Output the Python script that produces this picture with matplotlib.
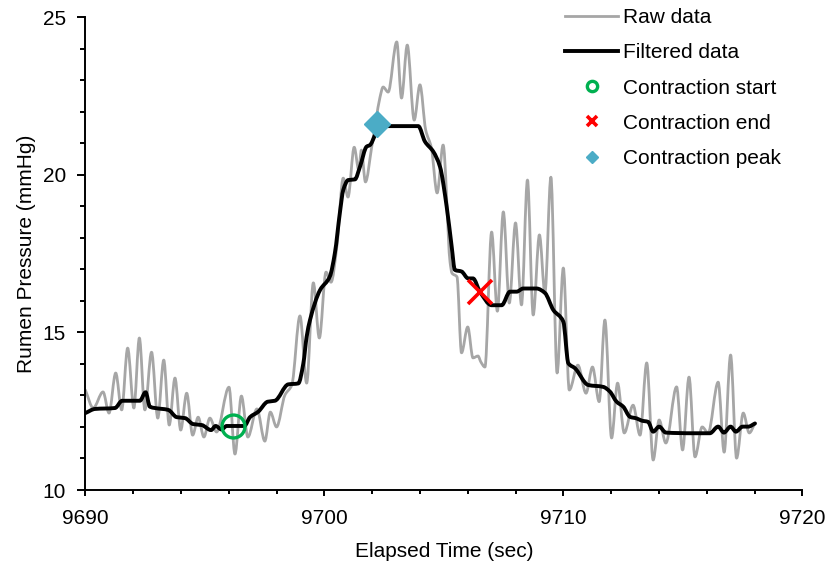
import matplotlib
matplotlib.use("Agg")
import matplotlib.pyplot as plt
from matplotlib.ticker import MultipleLocator
from matplotlib.path import Path
from matplotlib.patches import PathPatch
from matplotlib.lines import Line2D

plt.rcParams['font.family'] = ['Liberation Sans', 'DejaVu Sans']

# Raw data (time offset from 9690 s, pressure mmHg)
raw_t = [0.00, 0.33, 0.74, 0.99, 1.27, 1.52, 1.77, 2.03, 2.26, 2.49, 2.77, 3.03,
         3.28, 3.51, 3.75, 3.99, 4.24, 4.49, 4.72, 4.96, 5.21, 5.49, 6.01, 6.26,
         6.53, 6.80, 7.18, 7.51, 7.74, 8.00, 8.35, 8.64, 8.98, 9.26, 9.54, 9.79,
         10.07, 10.28, 10.53, 10.79, 10.99, 11.25, 11.44, 11.55, 11.72, 11.98,
         12.16, 12.33, 12.46, 12.67, 13.03, 13.23, 13.47, 13.76, 14.00, 14.24,
         14.48, 14.72, 14.97, 15.26, 15.34, 15.55, 15.74, 16.00, 16.22, 16.43,
         16.55, 16.72, 17.00, 17.24, 17.49, 17.74, 18.00, 18.25, 18.50, 18.74,
         19.00, 19.23, 19.48, 19.74, 20.00, 20.25, 20.61, 20.95, 21.22, 21.50,
         21.74, 22.02, 22.27, 22.55, 22.92, 23.21, 23.49, 23.76, 24.01, 24.29,
         24.74, 24.99, 25.26, 25.51, 25.81, 26.06, 26.48, 26.73, 27.00, 27.25,
         27.53, 27.78, 28.02]
raw_p = [13.17, 12.60, 13.11, 12.44, 13.71, 12.54, 14.50, 12.60, 14.82, 12.54, 14.37, 12.28,
         14.12, 12.06, 13.55, 11.90, 13.07, 11.74, 12.31, 11.68, 12.28, 11.84, 13.26, 11.14,
         12.98, 11.68, 12.57, 11.55, 12.47, 12.00, 13.01, 13.33, 15.52, 13.39, 16.57, 14.82,
         16.91, 16.59, 17.77, 19.89, 19.29, 20.87, 20.15, 20.78, 19.77, 20.87,
         21.73, 22.46, 22.78, 22.62, 24.21, 22.43, 24.11, 21.73, 22.85, 21.42,
         20.85, 19.42, 20.94, 17.23, 16.88, 16.76, 14.35, 15.17, 14.19, 14.25,
         14.06, 13.90, 18.18, 15.67, 18.82, 15.93, 18.47, 15.87, 19.83, 15.55,
         18.09, 16.24, 19.92, 13.71, 17.04, 13.17, 13.96, 13.07, 13.90, 12.80,
         15.39, 11.65, 13.39, 11.81, 12.69, 11.74, 14.03, 10.95, 12.22, 11.49,
         13.27, 11.27, 13.58, 11.05, 12.00, 11.81, 13.42, 11.20, 14.28, 11.01,
         12.44, 11.81, 12.12]

# Filtered data
filt_t = [0.00, 0.40, 1.24, 1.54, 2.28, 2.52, 2.70, 2.91, 3.47, 3.82, 4.17, 4.51,
          4.87, 5.26, 5.45, 5.70, 5.91, 6.65, 6.89, 7.23, 7.63, 7.93, 8.49, 8.91,
          9.12, 9.26, 9.40, 9.82, 10.23, 10.44, 10.65, 10.79, 11.00, 11.28, 11.49,
          11.77, 11.91, 12.12, 12.26, 13.93, 14.21, 14.56, 14.84, 15.12, 15.33,
          15.46, 15.74, 16.02, 16.22, 16.51, 17.00, 17.42, 17.77, 18.05, 18.32,
          18.88, 19.23, 19.58, 20.00, 20.21, 20.49, 21.04, 21.67, 21.95, 22.23,
          22.51, 22.79, 23.07, 23.28, 23.55, 23.76, 24.01, 24.29, 25.44, 26.13,
          26.48, 26.72, 27.00, 27.22, 27.50, 27.74, 28.02]
filt_p = [12.44, 12.57, 12.60, 12.83, 12.83, 13.10, 12.64, 12.60, 12.54, 12.31, 12.28, 12.09,
          12.06, 11.90, 12.03, 11.92, 12.03, 12.03, 12.31, 12.48, 12.80, 12.83, 13.35, 13.38,
          14.01, 14.86, 15.39, 16.34, 16.77, 17.51, 18.79, 19.51, 19.83, 19.85, 20.25,
          20.89, 20.94, 21.26, 21.54, 21.54, 21.05, 20.73, 20.25, 18.98, 17.71,
          16.98, 16.93, 16.71, 16.71, 16.29, 15.86, 15.86, 16.29, 16.29, 16.39,
          16.39, 16.25, 15.71, 15.34, 14.02, 13.86, 13.33, 13.27, 13.12, 12.80,
          12.64, 12.32, 12.27, 12.20, 12.16, 11.85, 12.01, 11.82, 11.80, 11.80,
          12.01, 11.82, 12.01, 11.85, 12.01, 12.01, 12.11]

t0 = 9690
start_pt = (6.17, 12.03)
end_pt = (16.51, 16.28)
peak_pt = (12.20, 21.60)

RAW_COLOR = '#A6A6A6'
FILT_COLOR = 'black'
RAW_LW = 2.0
FILT_LW = 2.8


def smooth_path(xs, ys):
    """Shape-preserving smoothed line (monotone cubic Bezier) through the data points."""
    n = len(xs)
    h = [xs[i + 1] - xs[i] for i in range(n - 1)]
    dl = [(ys[i + 1] - ys[i]) / h[i] for i in range(n - 1)]
    d = [0.0] * n
    d[0] = dl[0]
    d[-1] = dl[-1]
    for k in range(1, n - 1):
        if dl[k - 1] * dl[k] <= 0:
            d[k] = 0.0
        else:
            w1 = 2 * h[k] + h[k - 1]
            w2 = h[k] + 2 * h[k - 1]
            d[k] = (w1 + w2) / (w1 / dl[k - 1] + w2 / dl[k])
    verts = [(xs[0], ys[0])]
    codes = [Path.MOVETO]
    for i in range(n - 1):
        c1 = (xs[i] + h[i] / 3.0, ys[i] + d[i] * h[i] / 3.0)
        c2 = (xs[i + 1] - h[i] / 3.0, ys[i + 1] - d[i + 1] * h[i] / 3.0)
        verts += [c1, c2, (xs[i + 1], ys[i + 1])]
        codes += [Path.CURVE4] * 3
    return Path(verts, codes)


fig = plt.figure(figsize=(8.32, 5.67), dpi=100)
ax = fig.add_axes([0.1026, 0.1358, 0.8617, 0.8342])

raw_x = [t0 + t for t in raw_t]
filt_x = [t0 + t for t in filt_t]
ax.add_patch(PathPatch(smooth_path(raw_x, raw_p), facecolor='none', edgecolor=RAW_COLOR,
                       lw=RAW_LW, joinstyle='round', capstyle='round', zorder=2))
ax.add_patch(PathPatch(smooth_path(filt_x, filt_p), facecolor='none', edgecolor=FILT_COLOR,
                       lw=FILT_LW, joinstyle='round', capstyle='round', zorder=3))

m_start, = ax.plot([t0 + start_pt[0]], [start_pt[1]], linestyle='none', marker='o', markersize=16.5,
                   markerfacecolor='none', markeredgecolor='#00B050', markeredgewidth=2.4, zorder=4)
m_end, = ax.plot([t0 + end_pt[0]], [end_pt[1]], linestyle='none', marker='x', markersize=17,
                 markeredgecolor='#FF0000', markeredgewidth=2.6, zorder=4)
m_peak, = ax.plot([t0 + peak_pt[0]], [peak_pt[1]], linestyle='none', marker='D', markersize=13,
                  markerfacecolor='#4BACC6', markeredgecolor='#4BACC6', zorder=4)

ax.set_xlim(9690, 9720)
ax.set_ylim(10, 25)
ax.xaxis.set_major_locator(MultipleLocator(10))
ax.xaxis.set_minor_locator(MultipleLocator(2))
ax.yaxis.set_major_locator(MultipleLocator(5))
ax.yaxis.set_minor_locator(MultipleLocator(1))
for s in ['top', 'right']:
    ax.spines[s].set_visible(False)
for s in ['left', 'bottom']:
    ax.spines[s].set_linewidth(1.4)
ax.tick_params(which='both', direction='out', width=1.4, labelsize=15)
ax.tick_params(axis='x', which='major', length=4, pad=9.5)
ax.tick_params(axis='x', which='minor', length=3.2)
ax.tick_params(axis='y', which='major', length=5.5, pad=8.5)
ax.tick_params(axis='y', which='minor', length=3.5)
ax.set_xlabel('Elapsed Time (sec)', fontsize=15, labelpad=10)
ax.set_ylabel('Rumen Pressure (mmHg)', fontsize=15, labelpad=5)

h_raw = Line2D([], [], color=RAW_COLOR, lw=RAW_LW)
h_filt = Line2D([], [], color=FILT_COLOR, lw=FILT_LW)
leg = ax.legend([h_raw, h_filt, m_start, m_end, m_peak],
                ['Raw data', 'Filtered data', 'Contraction start', 'Contraction end', 'Contraction peak'],
                loc='upper left', bbox_to_anchor=(565 / 832, 1 - 8 / 567), bbox_transform=fig.transFigure,
                frameon=False, fontsize=15, markerscale=0.45, handlelength=2.55, handletextpad=0.25,
                labelspacing=0.78, borderpad=0, borderaxespad=0)

fig.savefig('out.png', dpi=100)
